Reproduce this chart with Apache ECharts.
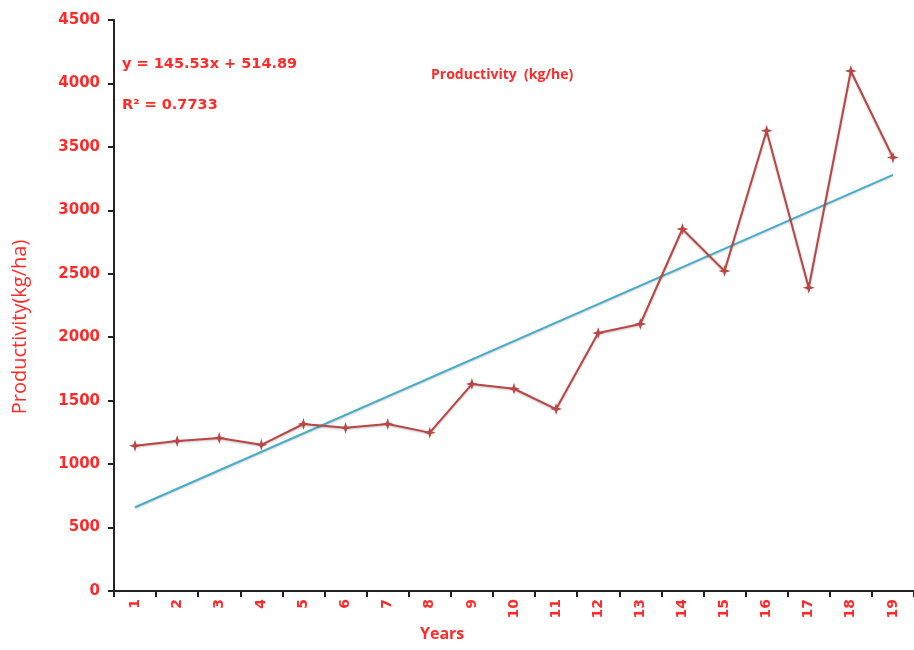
<!DOCTYPE html>
<html>
<head>
<meta charset="utf-8">
<script src="https://cdn.jsdelivr.net/npm/echarts@6/dist/echarts.min.js"></script>
<style>
    html, body { margin: 0; padding: 0; background: #fff; }
    #chart { width: 914px; height: 650px; }
</style>
</head>
<body>
<div id="chart"></div>
<script>
// data
var years = ['1', '2', '3', '4', '5', '6', '7', '8', '9', '10', '11', '12', '13', '14', '15', '16', '17', '18', '19'];
var productivity = [1145, 1182, 1206, 1152, 1316, 1286, 1316, 1248, 1631, 1594, 1434, 2033, 2104, 2853, 2522, 3627, 2390, 4098, 3416];
var trendEnds = [660, 3280]; // linear trend at year 1 and year 19
var yTicks = [0, 4500, 500];

var red = '#ff2a2a';
var starPath = 'path://M50,0 L62,38 L100,50 L62,62 L50,100 L38,62 L0,50 L38,38 Z';

var myChart = echarts.init(document.getElementById('chart'), null, { renderer: 'canvas' });

var option = {
    backgroundColor: '#fff',
    animation: false,
    title: {
        text: 'Productivity  (kg/he)',
        left: 426,
        top: 63,
        textStyle: { color: red, fontSize: 14, fontWeight: 'bold', fontFamily: 'Open Sans' }
    },
    graphic: [
        { type: 'text', left: 122, top: 57, style: { text: 'y = 145.53x + 514.89', fill: red, font: 'bold 14.5px "DejaVu Sans"' } },
        { type: 'text', left: 122, top: 98, style: { text: 'R² = 0.7733', fill: red, font: 'bold 14.5px "DejaVu Sans"' } },
        { type: 'text', left: 420, top: 626, style: { text: 'Years', fill: red, font: 'bold 16px "Open Sans"' } },
        {
            type: 'text', x: 20, y: 327, rotation: Math.PI / 2,
            style: { text: 'Productivity(kg/ha)', fill: red, font: '20px "Open Sans"', align: 'center', verticalAlign: 'middle' }
        }
    ],
    grid: { left: 114, right: 0, top: 20, bottom: 59 },
    xAxis: {
        type: 'category',
        data: years,
        boundaryGap: true,
        axisLine: { lineStyle: { color: '#222', width: 2 } },
        axisTick: { show: true, inside: false, length: 6, lineStyle: { color: '#222', width: 2 } },
        axisLabel: { color: red, fontSize: 14, fontWeight: 'bold', fontFamily: 'DejaVu Sans', rotate: 90, margin: 8 },
        splitLine: { show: false }
    },
    yAxis: {
        type: 'value',
        min: yTicks[0],
        max: yTicks[1],
        interval: yTicks[2],
        axisLine: { show: true, lineStyle: { color: '#222', width: 2 } },
        axisTick: { show: true, inside: false, length: 6, lineStyle: { color: '#222', width: 2 } },
        axisLabel: {
            color: red, fontSize: 15, fontWeight: 'bold', fontFamily: 'DejaVu Sans', margin: 14,
            formatter: function (v) { return String(v); }
        },
        splitLine: { show: false }
    },
    series: [
        {
            name: 'Productivity',
            type: 'line',
            data: productivity,
            symbol: starPath,
            symbolSize: 12,
            lineStyle: { color: '#b84745', width: 2, shadowColor: 'rgba(0,0,0,0.25)', shadowBlur: 2, shadowOffsetY: 1 },
            itemStyle: { color: '#b84745' },
            z: 3
        },
        {
            name: 'Trend',
            type: 'line',
            data: [[0, trendEnds[0]], [years.length - 1, trendEnds[1]]],
            symbol: 'none',
            lineStyle: { color: '#4bacc6', width: 2, shadowColor: 'rgba(0,0,0,0.2)', shadowBlur: 2, shadowOffsetY: 1 },
            z: 2
        }
    ]
};

myChart.setOption(option);
</script>
</body>
</html>
